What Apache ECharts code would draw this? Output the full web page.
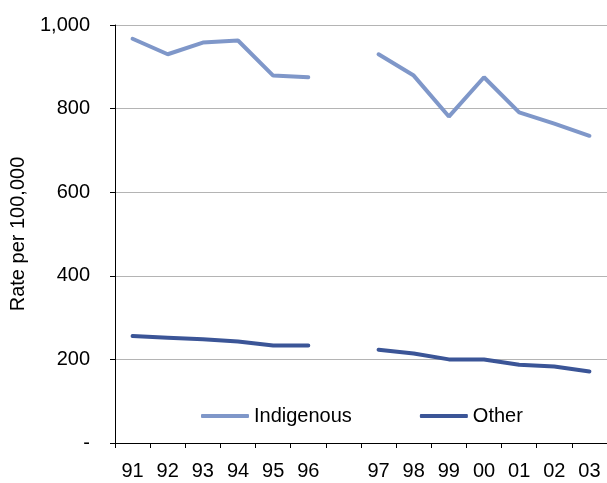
<!DOCTYPE html>
<html>
<head>
<meta charset="utf-8">
<script src="https://cdn.jsdelivr.net/npm/echarts@6/dist/echarts.min.js"></script>
<style>
html,body{margin:0;padding:0;background:#fff;}
#c{width:607px;height:483px;}
</style>
</head>
<body>
<div id="c"></div>
<script>
var categories = ['91','92','93','94','95','96','','97','98','99','00','01','02','03'];
var indigenous = [967, 930, 958, 963, 879, 875, null, 930, 879, 781, 875, 791, 764, 735];
var other = [256, 252, 248, 243, 233, 233, null, 223, 214, 200, 200, 187, 183, 171];
var yTicks = { min: 0, max: 1000, interval: 200 };

var chart = echarts.init(document.getElementById('c'));
var font = 'Liberation Sans, Arial, sans-serif';
chart.setOption({
  animation: false,
  backgroundColor: '#ffffff',
  grid: { left: 115, right: 0, top: 25, bottom: 40, containLabel: false },
  legend: {
    left: 196, top: 401,
    itemWidth: 48, itemHeight: 4, itemGap: 68,
    icon: 'roundRect',
    textStyle: { fontFamily: font, fontSize: 20, color: '#000' },
    data: ['Indigenous', 'Other']
  },
  xAxis: {
    type: 'category',
    data: categories,
    boundaryGap: true,
    axisLine: { lineStyle: { color: '#000', width: 1 } },
    axisTick: { show: true, interval: 0, length: 5, lineStyle: { color: '#000' } },
    axisLabel: { interval: 0, margin: 18, fontFamily: font, fontSize: 20, color: '#000' },
    splitLine: { show: false }
  },
  yAxis: {
    type: 'value',
    min: yTicks.min, max: yTicks.max, interval: yTicks.interval,
    name: 'Rate per 100,000',
    nameLocation: 'middle',
    nameGap: 87,
    nameTextStyle: { fontFamily: font, fontSize: 20, color: '#000' },
    axisLine: { show: true, lineStyle: { color: '#000', width: 1 } },
    axisTick: { show: true, length: 5, lineStyle: { color: '#000' } },
    axisLabel: {
      margin: 25, fontFamily: font, fontSize: 20, color: '#000',
      formatter: function (v) { return v === 0 ? '-' : v.toLocaleString('en-US'); }
    },
    splitLine: { show: true, lineStyle: { color: '#b4b4b4', width: 1 } }
  },
  series: [
    {
      name: 'Indigenous', type: 'line', data: indigenous,
      symbol: 'none', showSymbol: false, connectNulls: false,
      lineStyle: { color: '#7f97c9', width: 4, cap: 'round' },
      itemStyle: { color: '#7f97c9' }
    },
    {
      name: 'Other', type: 'line', data: other,
      symbol: 'none', showSymbol: false, connectNulls: false,
      lineStyle: { color: '#3b5597', width: 4, cap: 'round' },
      itemStyle: { color: '#3b5597' }
    }
  ]
});
</script>
</body>
</html>
